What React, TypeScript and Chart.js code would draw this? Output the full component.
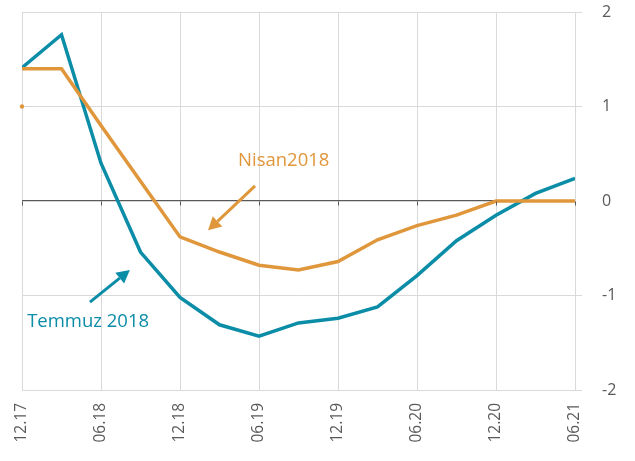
import React, { useEffect, useRef } from "react";
import { Chart, registerables } from "chart.js";

Chart.register(...registerables);

const quarters = ["12.17","03.18","06.18","09.18","12.18","03.19","06.19","09.19","12.19","03.20","06.20","09.20","12.20","03.21","06.21"];
const tickLabels = ["12.17","06.18","12.18","06.19","12.19","06.20","12.20","06.21"];
const nisan2018 = [1.4, 1.4, 0.8, 0.21, -0.38, -0.54, -0.68, -0.73, -0.64, -0.41, -0.26, -0.15, 0, 0, 0];
const temmuz2018 = [1.41, 1.76, 0.4, -0.54, -1.02, -1.31, -1.43, -1.29, -1.24, -1.12, -0.79, -0.42, -0.15, 0.08, 0.24];
const startMarker = [1.0];

const ORANGE = "#e0963a";
const TEAL = "#0b8da8";
const TEXT = "#595959";
const GRID = "#d9d9d9";
const FONT = "'Open Sans', 'Segoe UI', sans-serif";

type Note = { text: string; color: string; tx: number; ty: number; ax0: number; ay0: number; ax1: number; ay1: number };
const notes: Note[] = [
  { text: "Nisan2018", color: ORANGE, tx: 5.47, ty: 0.43, ax0: 5.9, ay0: 0.16, ax1: 4.71, ay1: -0.31 },
  { text: "Temmuz 2018", color: TEAL, tx: 0.13, ty: -1.28, ax0: 1.72, ay0: -1.07, ax1: 2.73, ay1: -0.73 },
];

const notePlugin = {
  id: "notes",
  afterDatasetsDraw(chart: any) {
    const { ctx, scales } = chart;
    const xs = scales.x, ys = scales.y;
    ctx.save();
    ctx.strokeStyle = TEXT;
    ctx.lineWidth = 1;
    const y0 = Math.round(ys.getPixelForValue(0)) + 0.5;
    for (let i = 0; i < quarters.length; i += 2) {
      const x = Math.round(xs.getPixelForValue(i)) + 0.5;
      ctx.beginPath();
      ctx.moveTo(x, y0);
      ctx.lineTo(x, y0 + 4);
      ctx.stroke();
    }
    for (const n of notes) {
      ctx.fillStyle = n.color;
      ctx.font = `18.5px ${FONT}`;
      ctx.textAlign = "left";
      ctx.textBaseline = "middle";
      ctx.fillText(n.text, xs.getPixelForValue(n.tx), ys.getPixelForValue(n.ty));
      const x0 = xs.getPixelForValue(n.ax0), y0a = ys.getPixelForValue(n.ay0);
      const x1 = xs.getPixelForValue(n.ax1), y1 = ys.getPixelForValue(n.ay1);
      const ang = Math.atan2(y1 - y0a, x1 - x0);
      const head = 13, hw = 7;
      const bx = x1 - head * Math.cos(ang), by = y1 - head * Math.sin(ang);
      ctx.strokeStyle = n.color;
      ctx.lineWidth = 3;
      ctx.beginPath();
      ctx.moveTo(x0, y0a);
      ctx.lineTo(bx, by);
      ctx.stroke();
      ctx.beginPath();
      ctx.moveTo(x1, y1);
      ctx.lineTo(bx + hw * Math.sin(ang), by - hw * Math.cos(ang));
      ctx.lineTo(bx - hw * Math.sin(ang), by + hw * Math.cos(ang));
      ctx.closePath();
      ctx.fill();
    }
    ctx.restore();
  },
};

export default function App() {
  const ref = useRef<HTMLCanvasElement>(null);
  useEffect(() => {
    if (!ref.current) return;
    const chart = new Chart(ref.current, {
      type: "line",
      data: {
        datasets: [
          {
            label: "Nisan2018",
            data: nisan2018.map((v, i) => ({ x: i, y: v })),
            borderColor: ORANGE,
            borderWidth: 3.5,
            pointRadius: 0,
            tension: 0,
          },
          {
            label: "Temmuz 2018",
            data: temmuz2018.map((v, i) => ({ x: i, y: v })),
            borderColor: TEAL,
            borderWidth: 3.5,
            pointRadius: 0,
            tension: 0,
          },
          {
            label: "start",
            data: startMarker.map((v, i) => ({ x: i, y: v })),
            showLine: false,
            pointRadius: 2.2,
            pointBorderWidth: 0,
            pointBackgroundColor: ORANGE,
            clip: false as any,
          },
        ],
      },
      options: {
        responsive: false,
        animation: false,
        layout: { padding: { left: 22, top: 12, right: 0, bottom: 0 } },
        plugins: { legend: { display: false }, tooltip: { enabled: false } },
        scales: {
          x: {
            type: "linear",
            min: 0,
            max: quarters.length - 1,
            afterFit: (s: any) => { s.height = 71; s.paddingLeft = 0; s.paddingRight = 0; s.paddingTop = 0; s.paddingBottom = 0; },
            grid: { color: GRID, drawTicks: false },
            border: { display: false },
            ticks: {
              stepSize: 2,
              minRotation: 90,
              maxRotation: 90,
              padding: 13,
              color: TEXT,
              font: { family: FONT, size: 15.5 },
              callback: (v: any) => tickLabels[Math.round(v / 2)] ?? "",
            },
          },
          y: {
            position: "right",
            min: -2,
            max: 2,
            afterFit: (s: any) => { s.width = 60; s.paddingTop = 0; s.paddingBottom = 0; s.paddingLeft = 0; s.paddingRight = 0; },
            grid: {
              color: (c: any) => (c.tick && c.tick.value === 0 ? TEXT : GRID),
              lineWidth: (c: any) => (c.tick && c.tick.value === 0 ? 1.3 : 1),
              tickColor: (c: any) => (c.tick && c.tick.value === 0 ? "rgba(0,0,0,0)" : GRID),
              tickLength: 7,
            },
            border: { display: false },
            ticks: {
              stepSize: 1,
              padding: 20,
              color: TEXT,
              font: { family: FONT, size: 16 },
            },
          },
        },
      },
      plugins: [notePlugin],
    });
    return () => chart.destroy();
  }, []);
  return (
    <canvas
      ref={ref}
      width={635}
      height={461}
      style={{ position: "absolute", left: 0, top: 0, display: "block" }}
    />
  );
}
